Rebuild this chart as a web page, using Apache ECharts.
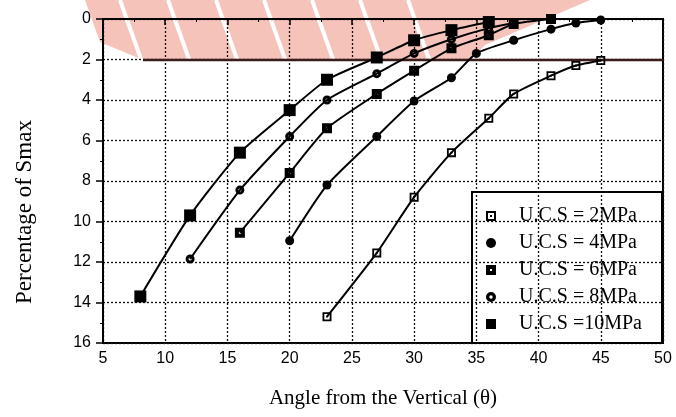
<!DOCTYPE html>
<html>
<head>
<meta charset="utf-8">
<script src="https://cdn.jsdelivr.net/npm/echarts@6/dist/echarts.min.js"></script>
<style>html,body{margin:0;padding:0;background:#fff;}#c{width:676px;height:417px;}</style>
</head>
<body>
<div id="c"></div>
<script>
// Data
const seriesNames = ['U.C.S = 2MPa', 'U.C.S = 4MPa', 'U.C.S = 6MPa', 'U.C.S = 8MPa', 'U.C.S =10MPa'];
const angles2  = [23, 27, 30, 33, 36, 38, 41, 43, 45];
const pct2     = [14.7, 11.55, 8.8, 6.6, 4.9, 3.7, 2.8, 2.3, 2.05];
const angles4  = [20, 23, 27, 30, 33, 35, 38, 41, 43, 45];
const pct4     = [10.95, 8.2, 5.8, 4.05, 2.9, 1.7, 1.05, 0.5, 0.2, 0.05];
const angles6  = [16, 20, 23, 27, 30, 33, 36, 38, 41];
const pct6     = [10.55, 7.6, 5.4, 3.7, 2.55, 1.45, 0.8, 0.25, 0.0];
const angles8  = [12, 16, 20, 23, 27, 30, 33, 36, 38];
const pct8     = [11.85, 8.45, 5.8, 4.0, 2.7, 1.7, 1.0, 0.45, 0.2];
const angles10 = [8, 12, 16, 20, 23, 27, 30, 33, 36];
const pct10    = [13.7, 9.7, 6.6, 4.5, 3.0, 1.9, 1.05, 0.55, 0.15];
const xTicks = [5, 10, 15, 20, 25, 30, 35, 40, 45, 50];
const yTicks = [0, 2, 4, 6, 8, 10, 12, 14, 16];

const icons = [
  'path://M0,0H10V10H0Z M2,2V8H8V2Z M4,4H6V6H4Z',
  'circle',
  'path://M0,0H10V10H0Z M4,4V6H6V4Z',
  'path://M5,0A5,5 0 1,1 5,10A5,5 0 1,1 5,0Z M5,3.3A1.7,1.7 0 1,0 5,6.7A1.7,1.7 0 1,0 5,3.3Z',
  'rect'
];
const sizes = [9, 9, 10, 9, 12];
const allX = [angles2, angles4, angles6, angles8, angles10];
const allY = [pct2, pct4, pct6, pct8, pct10];

const chart = echarts.init(document.getElementById('c'), null, {renderer: 'canvas'});

const series = seriesNames.map((n, i) => ({
  name: n,
  type: 'line',
  smooth: 0.2,
  data: allX[i].map((x, j) => [x, allY[i][j]]),
  symbol: icons[i],
  symbolSize: sizes[i],
  symbolKeepAspect: true,
  lineStyle: {color: '#000', width: 2},
  itemStyle: {color: '#000'},
  z: 5
}));

// watermark-like decoration (pink logo at top of the scan)
const pink = '#f6c3bb';
const stripes = [];
[120, 168, 216, 264, 312, 360, 408].forEach(x => {
  stripes.push({type: 'line', z: -9, shape: {x1: x, y1: 0, x2: x + 22, y2: 62}, style: {stroke: '#fff', lineWidth: 4}});
});

const option = {
  animation: false,
  backgroundColor: '#fff',
  grid: {left: 103, right: 13, top: 19, bottom: 74, show: true, borderColor: '#000', borderWidth: 2, backgroundColor: 'transparent'},
  xAxis: {
    type: 'value', min: xTicks[0], max: xTicks[xTicks.length - 1], interval: 5,
    name: 'Angle from the Vertical (θ)', nameLocation: 'middle', nameGap: 45,
    nameTextStyle: {fontFamily: 'Liberation Serif', fontSize: 21, color: '#000'},
    axisLine: {lineStyle: {color: '#000', width: 2}},
    axisTick: {show: true, length: 6, lineStyle: {color: '#000', width: 1.5}},
    minorTick: {show: true, splitNumber: 2, length: 3, lineStyle: {color: '#000', width: 1}},
    axisLabel: {fontFamily: 'Liberation Sans', fontSize: 16, color: '#000', margin: 8},
    splitLine: {show: true, lineStyle: {color: '#111', width: 1.3, type: [2, 2]}}
  },
  yAxis: {
    type: 'value', min: yTicks[0], max: yTicks[yTicks.length - 1], interval: 2, inverse: true,
    axisLine: {lineStyle: {color: '#000', width: 2}},
    axisTick: {show: true, length: 7, lineStyle: {color: '#000', width: 1.5}},
    minorTick: {show: true, splitNumber: 2, length: 3, lineStyle: {color: '#000', width: 1}},
    axisLabel: {fontFamily: 'Liberation Sans', fontSize: 16, color: '#000', margin: 12},
    splitLine: {show: true, lineStyle: {color: '#111', width: 1.3, type: [2, 2]}}
  },
  legend: {
    orient: 'vertical', left: 486, top: 206, padding: 0,
    itemWidth: 10, itemHeight: 10, itemGap: 7,
    data: seriesNames.map((n, i) => ({name: n, icon: icons[i], itemStyle: {color: '#000'}})),
    textStyle: {fontFamily: 'Liberation Serif', fontSize: 20, color: '#000', lineHeight: 10, padding: [0, 0, 0, 18]},
    selectedMode: false
  },
  graphic: [
    {type: 'polygon', z: -10, shape: {points: [[85, 0], [590, 0], [485, 45], [470, 60], [143, 60], [100, 42]]}, style: {fill: pink}},
    ...stripes,
    {type: 'line', z: 4, shape: {x1: 143, y1: 60, x2: 663, y2: 60}, style: {stroke: '#3a1d1a', lineWidth: 2.5}},
    {type: 'rect', z: 6, shape: {x: 472, y: 192, width: 190, height: 151}, style: {fill: null, stroke: '#000', lineWidth: 2}},
    {type: 'text', z: 6, x: 25, y: 212, rotation: Math.PI / 2,
      style: {text: 'Percentage of Smax', fontFamily: 'Liberation Serif', fontSize: 23, fill: '#000', align: 'center', verticalAlign: 'middle'}}
  ],
  series: series
};
chart.setOption(option);
</script>
</body>
</html>
